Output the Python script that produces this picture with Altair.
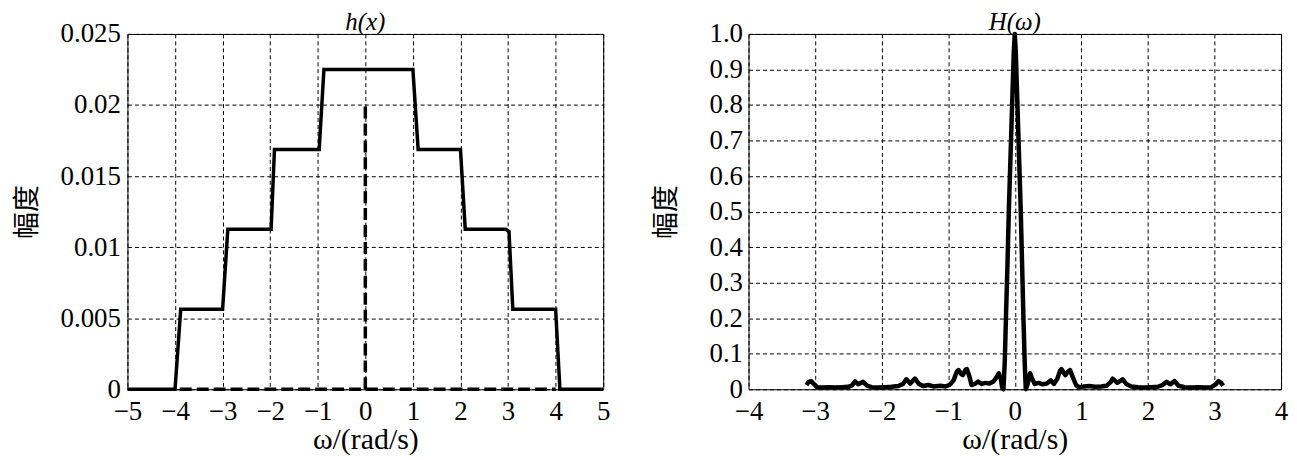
import altair as alt
import pandas as pd

# ---------------- data ----------------
# left panel: h(x), solid staircase
hx_x = [-5, -4.0, -3.88, -3.0, -2.89, -1.98, -1.91, -0.97, -0.87, 1.0, 1.11,
        2.0, 2.1, 2.95, 3.02, 3.1, 4.0, 4.09, 5]
hx_y = [0, 0, 0.005625, 0.005625, 0.01125, 0.01125, 0.016875, 0.016875,
        0.0225, 0.0225, 0.016875, 0.016875, 0.01125, 0.01125, 0.0111,
        0.005625, 0.005625, 0, 0]
# left panel: dashed line (baseline + impulse at 0)
dash_seg = ["base", "base", "spike", "spike"]
dash_x = [-3.9, 4.0, 0.0, 0.0]
dash_y = [0, 0, 0, 0.0201]

# right panel: H(omega)
H_w = [-3.13, -3.10, -3.06, -3.02, -2.97, -2.90, -2.80, -2.70, -2.60, -2.50,
       -2.45, -2.40, -2.35, -2.28, -2.22, -2.15, -2.05, -1.95, -1.85, -1.75,
       -1.68, -1.63, -1.57, -1.50, -1.44, -1.38, -1.30, -1.22, -1.12, -1.04,
       -0.98, -0.92, -0.87, -0.845, -0.80, -0.78, -0.74, -0.72, -0.68, -0.65,
       -0.60, -0.55, -0.50, -0.44, -0.38, -0.32, -0.27, -0.24, -0.21, -0.19,
       -0.17, -0.15, -0.13, -0.11, -0.09, -0.07, -0.05, -0.03, -0.015, 0.0,
       0.015, 0.03, 0.05, 0.07, 0.09, 0.11, 0.13, 0.15, 0.165,
       0.19, 0.23, 0.26, 0.30, 0.36, 0.42, 0.48, 0.54, 0.59, 0.64,
       0.68, 0.70, 0.74, 0.76, 0.80, 0.83, 0.87, 0.92, 0.96, 1.04,
       1.12, 1.20, 1.30, 1.38, 1.44, 1.47, 1.54, 1.62, 1.68, 1.75,
       1.85, 1.95, 2.05, 2.15, 2.22, 2.28, 2.34, 2.40, 2.46, 2.55,
       2.65, 2.75, 2.85, 2.95, 3.02, 3.06, 3.10, 3.13]
H_v = [0.012, 0.020, 0.023, 0.015, 0.006, 0.005, 0.006, 0.005, 0.006, 0.007,
       0.010, 0.022, 0.014, 0.021, 0.010, 0.006, 0.005, 0.006, 0.007, 0.009,
       0.015, 0.028, 0.016, 0.030, 0.015, 0.009, 0.012, 0.008, 0.010, 0.008,
       0.012, 0.025, 0.050, 0.054, 0.042, 0.040, 0.055, 0.057, 0.035, 0.012,
       0.015, 0.022, 0.015, 0.018, 0.016, 0.022, 0.035, 0.045, 0.030, 0.005,
       0.0, 0.08, 0.22, 0.35, 0.50, 0.62, 0.74, 0.86, 0.95, 1.0,
       0.95, 0.86, 0.74, 0.62, 0.50, 0.35, 0.20, 0.07, 0.0,
       0.012, 0.045, 0.030, 0.015, 0.018, 0.014, 0.016, 0.025, 0.015, 0.030,
       0.052, 0.057, 0.045, 0.040, 0.050, 0.054, 0.035, 0.012, 0.006, 0.008,
       0.009, 0.007, 0.008, 0.010, 0.020, 0.030, 0.018, 0.028, 0.014, 0.008,
       0.006, 0.005, 0.006, 0.007, 0.012, 0.021, 0.014, 0.023, 0.010, 0.006,
       0.005, 0.006, 0.005, 0.006, 0.014, 0.023, 0.018, 0.010]

left_xticks = [-5, -4, -3, -2, -1, 0, 1, 2, 3, 4, 5]
left_yticks = [0, 0.005, 0.01, 0.015, 0.02, 0.025]
right_xticks = [-4, -3, -2, -1, 0, 1, 2, 3, 4]
right_yticks = [0, 0.1, 0.2, 0.3, 0.4, 0.5, 0.6, 0.7, 0.8, 0.9, 1.0]

SERIF = "'Liberation Serif', 'Times New Roman', Times, 'DejaVu Serif', serif"
CJK = "'Noto Sans CJK SC', sans-serif"

def xaxis(vals):
    return alt.Axis(values=vals, title="ω/(rad/s)", grid=True, ticks=False,
                    domain=False, labelFont=SERIF, labelFontSize=27,
                    labelColor="black", labelPadding=9, labelFlush=False,
                    titleFont=SERIF, titleFontSize=30, titleFontWeight="normal",
                    titleColor="black", titlePadding=1,
                    gridColor="black", gridDash=[4, 3], gridWidth=1,
                    gridOpacity=1)

def yaxis(vals, expr, lp, tp):
    return alt.Axis(values=vals, title="幅度", grid=True, ticks=False,
                    domain=False, labelFont=SERIF, labelFontSize=27,
                    labelColor="black", labelPadding=lp, labelExpr=expr,
                    titleFont=CJK, titleFontSize=27, titleFontWeight="normal",
                    titleColor="black", titlePadding=tp,
                    gridColor="black", gridDash=[4, 3], gridWidth=1,
                    gridOpacity=1)

# ---------------- left chart ----------------
df_h = pd.DataFrame({"x": hx_x, "y": hx_y, "i": list(range(len(hx_x)))})
df_d = pd.DataFrame({"x": dash_x, "y": dash_y, "seg": dash_seg,
                     "i": list(range(len(dash_x)))})

lx = alt.X("x:Q", scale=alt.Scale(domain=[-5, 5], nice=False),
           axis=xaxis(left_xticks))
ly = alt.Y("y:Q", scale=alt.Scale(domain=[0, 0.025], nice=False),
           axis=yaxis(left_yticks, "datum.value == 0 ? '0' : format(datum.value, '~g')", 7, 19))

solid = alt.Chart(df_h).mark_line(color="black", strokeWidth=3.5,
                                  strokeJoin="miter").encode(
    x=lx, y=ly, order="i:Q")
dashed = alt.Chart(df_d).mark_line(color="black", strokeWidth=3.5,
                                   strokeDash=[12, 5]).encode(
    x=alt.X("x:Q"), y=alt.Y("y:Q"), detail="seg:N", order="i:Q")

left = alt.layer(solid, dashed).properties(
    width=478, height=357,
    title=alt.Title("h(x)", font=SERIF, fontSize=25, fontStyle="italic",
                    fontWeight="normal", color="black", offset=-15))

# ---------------- right chart ----------------
df_H = pd.DataFrame({"w": H_w, "H": H_v, "i": list(range(len(H_w)))})
rx = alt.X("w:Q", scale=alt.Scale(domain=[-4, 4], nice=False),
           axis=xaxis(right_xticks))
ry = alt.Y("H:Q", scale=alt.Scale(domain=[0, 1], nice=False),
           axis=yaxis(right_yticks, "datum.value == 0 ? '0' : format(datum.value, '.1f')", 6, 29))

right = alt.Chart(df_H).mark_line(color="black", strokeWidth=4.5,
                                  strokeJoin="round").encode(
    x=rx, y=ry, order="i:Q").properties(
    width=535, height=357,
    title=alt.Title("H(ω)", font=SERIF, fontSize=25, fontStyle="italic",
                    fontWeight="normal", color="black", offset=-15))

chart = alt.hconcat(left, right, spacing=40).properties(
    padding={"left": 4, "top": 0, "right": 0, "bottom": 0},
    background="white"
).configure_view(stroke="black", strokeWidth=1)

chart.save("out.html", embed_options={"renderer": "svg", "actions": False})
